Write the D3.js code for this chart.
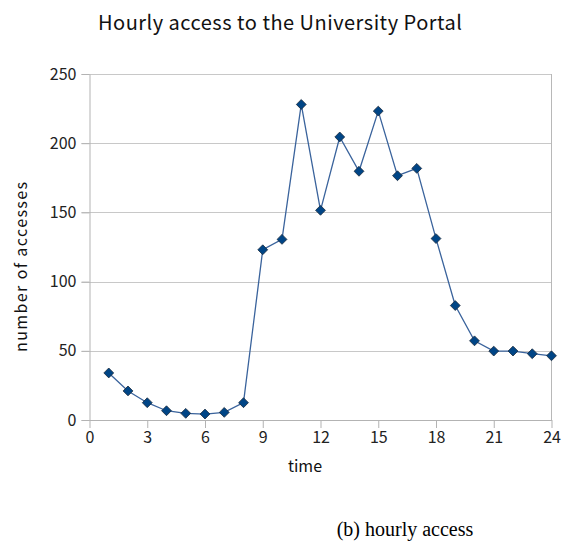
<!DOCTYPE html>
<html>
<head>
<meta charset="utf-8">
<script src="https://cdn.jsdelivr.net/npm/d3@7"></script>
<style>
  body { margin: 0; background: #fff; }
  .tick text { font-family: "Noto Sans CJK JP", "DejaVu Sans", sans-serif; font-size: 16px; fill: #222; }
</style>
</head>
<body>
<div id="plot"></div>
<script>
var hours = [1, 2, 3, 4, 5, 6, 7, 8, 9, 10, 11, 12, 13, 14, 15, 16, 17, 18, 19, 20, 21, 22, 23, 24];
var accesses = [34, 21, 12.5, 6.7, 4.8, 4.3, 5.5, 12.5, 123, 130.5, 228, 151.5, 204.5, 179.7, 223.2, 176.5, 181.8, 131.1, 82.7, 57.2, 49.8, 49.8, 47.9, 46.4];
var xTicks = [0, 3, 6, 9, 12, 15, 18, 21, 24];
var yTicks = [0, 50, 100, 150, 200, 250];

var w = 568, h = 545;
var padL = 89.5, padR = 551.5, padT = 74, padB = 420;

var svg = d3.select("#plot")
    .append("svg")
    .attr("width", w)
    .attr("height", h);

var xScale = d3.scaleLinear().domain([0, 24]).range([padL, padR]);
var yScale = d3.scaleLinear().domain([0, 250]).range([padB, padT]);

// horizontal gridlines
svg.append("g")
    .selectAll("line")
    .data(yTicks)
    .enter()
    .append("line")
    .attr("x1", padL - 8)
    .attr("x2", padR)
    .attr("y1", function (d) { return Math.round(yScale(d)) + 0.5; })
    .attr("y2", function (d) { return Math.round(yScale(d)) + 0.5; })
    .attr("stroke", "#c8c8c8")
    .attr("stroke-width", 1.2);

// right border
svg.append("line")
    .attr("x1", padR).attr("x2", padR)
    .attr("y1", padT).attr("y2", padB)
    .attr("stroke", "#b8b8b8");

var xAxis = d3.axisBottom(xScale).tickValues(xTicks).tickSize(8).tickPadding(4).tickSizeOuter(0);
var yAxis = d3.axisLeft(yScale).tickValues(yTicks).tickSize(8).tickPadding(5).tickSizeOuter(0);

var gx = svg.append("g")
    .attr("transform", "translate(0," + padB + ")")
    .call(xAxis);
var gy = svg.append("g")
    .attr("transform", "translate(" + padL + ",0)")
    .call(yAxis);
[gx, gy].forEach(function (g) {
    g.selectAll("path, line").attr("stroke", "#b3b3b3");
});

var line = d3.line()
    .x(function (d, i) { return xScale(hours[i]); })
    .y(function (d) { return yScale(d); });

svg.append("path")
    .datum(accesses)
    .attr("d", line)
    .attr("fill", "none")
    .attr("stroke", "#3a639c")
    .attr("stroke-width", 1.3);

var sym = d3.symbol().type(d3.symbolDiamond2).size(62);
svg.selectAll(".pt")
    .data(accesses)
    .enter()
    .append("path")
    .attr("class", "pt")
    .attr("d", sym)
    .attr("transform", function (d, i) { return "translate(" + xScale(hours[i]) + "," + yScale(d) + ")"; })
    .attr("fill", "#004586")
    .attr("stroke", "#1c2b3c")
    .attr("stroke-width", 0.8);

svg.append("text")
    .attr("x", 280)
    .attr("y", 30)
    .attr("text-anchor", "middle")
    .attr("textLength", 364)
    .attr("lengthAdjust", "spacing")
    .style("font-family", "'Noto Sans CJK JP', 'DejaVu Sans', sans-serif")
    .style("font-size", "20px")
    .attr("fill", "#111")
    .text("Hourly access to the University Portal");

svg.append("text")
    .attr("x", 305)
    .attr("y", 472)
    .attr("text-anchor", "middle")
    .style("font-family", "'Noto Sans CJK JP', 'DejaVu Sans', sans-serif")
    .style("font-size", "16px")
    .attr("fill", "#111")
    .text("time");

svg.append("text")
    .attr("transform", "translate(27,267) rotate(-90)")
    .attr("text-anchor", "middle")
    .attr("textLength", 170)
    .attr("lengthAdjust", "spacing")
    .style("font-family", "'Noto Sans CJK JP', 'DejaVu Sans', sans-serif")
    .style("font-size", "16px")
    .attr("fill", "#111")
    .text("number of accesses");

svg.append("text")
    .attr("x", 405)
    .attr("y", 536)
    .attr("text-anchor", "middle")
    .style("font-family", "'Liberation Serif', 'Times New Roman', serif")
    .style("font-size", "20px")
    .attr("fill", "#000")
    .text("(b) hourly access");
</script>
</body>
</html>
